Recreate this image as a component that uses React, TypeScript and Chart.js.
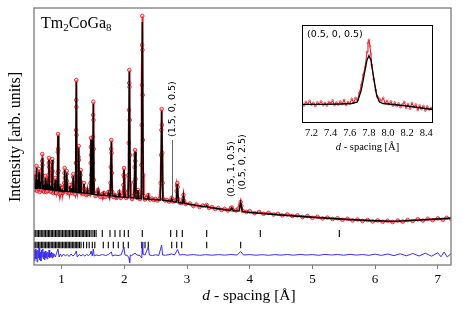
import React, { useEffect, useRef } from 'react';
import { Chart, registerables } from 'chart.js';
Chart.register(...registerables);

// ---------------- DATA ----------------
const xTickValues = [1, 2, 3, 4, 5, 6, 7];
const insetTickValues = [7.2, 7.4, 7.6, 7.8, 8.0, 8.2, 8.4];

// calculated profile [d (Å), intensity]
const calcPattern: number[][] = [
  [0.560, 380], [0.565, 372], [0.572, 500], [0.579, 370],
  [0.592, 368], [0.600, 570], [0.608, 367],
  [0.618, 366], [0.625, 450], [0.631, 366],
  [0.634, 366], [0.640, 530], [0.647, 365],
  [0.658, 364], [0.665, 430], [0.672, 363],
  [0.684, 363], [0.692, 670], [0.700, 362],
  [0.708, 361], [0.715, 400], [0.722, 360],
  [0.732, 359], [0.740, 470], [0.748, 358],
  [0.763, 357], [0.770, 400], [0.777, 356],
  [0.791, 355], [0.799, 650], [0.807, 354],
  [0.818, 353], [0.825, 390], [0.832, 352],
  [0.844, 351], [0.852, 650], [0.860, 350],
  [0.868, 349], [0.875, 370], [0.882, 348],
  [0.892, 348], [0.900, 450], [0.908, 347],
  [0.933, 345], [0.943, 890], [0.953, 344],
  [0.968, 342], [0.975, 370], [0.982, 341],
  [1.003, 340], [1.010, 350], [1.017, 339],
  [1.039, 338], [1.049, 550], [1.059, 337],
  [1.071, 336], [1.081, 520], [1.091, 336],
  [1.120, 334], [1.130, 390], [1.140, 334],
  [1.152, 333], [1.160, 370], [1.168, 332],
  [1.176, 331], [1.187, 490], [1.198, 330],
  [1.222, 328], [1.234, 1430], [1.246, 327],
  [1.262, 326], [1.273, 770], [1.284, 325],
  [1.295, 323], [1.305, 540], [1.315, 322],
  [1.347, 320], [1.357, 410], [1.367, 319],
  [1.400, 316], [1.410, 350], [1.420, 315],
  [1.457, 311], [1.469, 850], [1.481, 309],
  [1.494, 308], [1.506, 1210], [1.518, 306],
  [1.571, 302], [1.581, 340], [1.591, 301],
  [1.666, 297], [1.676, 310], [1.686, 296],
  [1.735, 294], [1.745, 320], [1.755, 293],
  [1.778, 291], [1.793, 830], [1.808, 290],
  [1.842, 287], [1.852, 300], [1.862, 286],
  [1.910, 282], [1.920, 320], [1.930, 281],
  [1.980, 279], [1.995, 550], [2.010, 278],
  [2.064, 274], [2.080, 1530], [2.096, 273],
  [2.156, 270], [2.171, 730], [2.186, 269],
  [2.206, 268], [2.218, 350], [2.230, 267],
  [2.270, 264], [2.287, 2030], [2.304, 262],
  [2.372, 259], [2.383, 290], [2.394, 258],
  [2.577, 251], [2.596, 1140], [2.615, 249],
  [2.742, 237], [2.756, 262], [2.770, 235],
  [2.828, 229], [2.845, 410], [2.862, 226],
  [2.930, 217], [2.944, 290], [2.958, 215],
  [3.300, 180], [3.314, 195], [3.328, 179],
  [3.690, 146], [3.713, 170], [3.736, 144],
  [3.830, 139], [3.856, 222], [3.882, 136],
  [4.000, 125], [4.500, 100], [5.000, 77], [5.500, 57], [6.000, 42],
  [6.300, 36], [6.600, 46], [7.000, 60], [7.210, 68],
];

// observed points [d, intensity]
const obsPattern: number[][] = [
  [0.560, 420], [0.566, 360], [0.572, 520], [0.576, 430], [0.582, 350], [0.590, 400], [0.596, 480],
  [0.600, 590], [0.604, 470], [0.610, 340], [0.618, 390], [0.625, 470], [0.630, 360], [0.636, 420],
  [0.640, 560], [0.645, 420], [0.652, 330], [0.660, 380], [0.665, 450], [0.670, 350], [0.678, 390],
  [0.686, 500], [0.690, 640], [0.692, 710], [0.695, 600], [0.700, 420], [0.706, 340], [0.715, 420],
  [0.722, 330], [0.730, 380], [0.736, 420], [0.740, 490], [0.745, 380], [0.755, 330], [0.762, 390],
  [0.770, 420], [0.777, 340], [0.785, 380], [0.793, 500], [0.797, 620], [0.799, 670], [0.802, 580],
  [0.806, 420], [0.815, 340], [0.825, 410], [0.833, 330], [0.842, 380], [0.847, 520], [0.850, 630],
  [0.852, 660], [0.855, 540], [0.860, 380], [0.868, 320], [0.875, 390], [0.883, 330], [0.893, 360],
  [0.900, 470], [0.906, 350], [0.915, 320], [0.930, 370], [0.936, 520], [0.940, 730], [0.943, 910],
  [0.946, 760], [0.950, 540], [0.956, 360], [0.965, 310], [0.975, 390], [0.985, 320], [0.995, 350],
  [1.010, 370], [1.020, 320], [1.030, 350],
  [1.042, 420], [1.047, 520], [1.049, 570], [1.053, 470], [1.060, 340], [1.074, 410], [1.079, 510],
  [1.081, 540], [1.085, 440], [1.092, 330], [1.105, 350], [1.118, 320], [1.130, 400], [1.140, 320],
  [1.150, 350], [1.160, 380], [1.170, 320], [1.180, 400], [1.185, 480], [1.187, 510], [1.191, 420],
  [1.200, 330], [1.212, 310], [1.224, 420], [1.228, 620], [1.231, 950], [1.233, 1250], [1.234, 1450],
  [1.236, 1180], [1.238, 900], [1.241, 620], [1.245, 400], [1.252, 330], [1.262, 380], [1.266, 520],
  [1.270, 680], [1.273, 790], [1.276, 650], [1.280, 440], [1.288, 330], [1.298, 400], [1.302, 500],
  [1.305, 550], [1.309, 430], [1.318, 320], [1.330, 340], [1.345, 310], [1.352, 370], [1.357, 420],
  [1.362, 360], [1.375, 320], [1.390, 300], [1.405, 330], [1.410, 350], [1.418, 310], [1.435, 330],
  [1.450, 310], [1.460, 420], [1.464, 620], [1.467, 780], [1.469, 870], [1.472, 700], [1.476, 500],
  [1.484, 330], [1.494, 400], [1.498, 620], [1.501, 880], [1.504, 1100], [1.506, 1233], [1.509, 1050],
  [1.512, 760], [1.516, 450], [1.524, 320], [1.540, 290], [1.560, 310], [1.581, 350], [1.595, 300],
  [1.620, 280], [1.645, 310], [1.660, 290], [1.676, 320], [1.700, 280], [1.720, 300], [1.745, 330],
  [1.765, 290], [1.780, 420], [1.785, 580], [1.790, 760], [1.793, 850], [1.797, 720], [1.802, 520],
  [1.810, 330], [1.825, 280], [1.852, 300], [1.875, 270], [1.900, 290], [1.920, 330], [1.945, 270],
  [1.970, 290], [1.985, 400], [1.990, 500], [1.995, 570], [2.000, 480], [2.008, 340], [2.030, 270],
  [2.055, 290], [2.066, 500], [2.071, 820], [2.075, 1150], [2.078, 1420], [2.080, 1550], [2.083, 1380],
  [2.086, 1050], [2.090, 700], [2.095, 420], [2.105, 280], [2.125, 260], [2.145, 290], [2.160, 430],
  [2.165, 580], [2.169, 700], [2.171, 750], [2.175, 640], [2.180, 460], [2.190, 300], [2.205, 270],
  [2.218, 350], [2.232, 270], [2.250, 260], [2.268, 320], [2.274, 600], [2.278, 1000], [2.281, 1400],
  [2.284, 1800], [2.287, 2090], [2.290, 1750], [2.293, 1300], [2.297, 850], [2.301, 500], [2.310, 290],
  [2.330, 255], [2.355, 270], [2.383, 300], [2.410, 255],
  [2.440, 265], [2.470, 250], [2.500, 260], [2.530, 245], [2.560, 260], [2.580, 420], [2.586, 700],
  [2.591, 950], [2.596, 1160], [2.600, 1000], [2.605, 720], [2.611, 420], [2.620, 260], [2.650, 245],
  [2.680, 250], [2.710, 235], [2.740, 245], [2.756, 270], [2.775, 235], [2.800, 240], [2.825, 250],
  [2.835, 340], [2.841, 400], [2.845, 420], [2.850, 380], [2.858, 260], [2.880, 225], [2.910, 220],
  [2.935, 260], [2.944, 300], [2.955, 240], [2.980, 210],
  [3.05, 215], [3.10, 190], [3.15, 205], [3.20, 180], [3.25, 195], [3.314, 200], [3.35, 170],
  [3.40, 180], [3.45, 160], [3.50, 170], [3.55, 150], [3.60, 162], [3.65, 145], [3.70, 168],
  [3.713, 175], [3.73, 150], [3.78, 145], [3.82, 165], [3.845, 200], [3.856, 230], [3.866, 190],
  [3.89, 140], [3.95, 130], [4.00, 138], [4.08, 118], [4.15, 130], [4.22, 112], [4.30, 122],
  [4.38, 105], [4.45, 112], [4.52, 96], [4.60, 106], [4.68, 90], [4.76, 96], [4.84, 80],
  [4.92, 90], [5.00, 72], [5.08, 82], [5.16, 66], [5.24, 74], [5.32, 60], [5.40, 68],
  [5.48, 52], [5.56, 62], [5.64, 46], [5.72, 55], [5.80, 40], [5.88, 50], [5.96, 35],
  [6.04, 46], [6.12, 32], [6.20, 42], [6.28, 30], [6.36, 45], [6.44, 34], [6.52, 50],
  [6.60, 40], [6.68, 58], [6.76, 44], [6.84, 62], [6.92, 48], [7.00, 66], [7.08, 52],
  [7.14, 72], [7.21, 62],
];

// difference curve (obs - calc, offset) [d, value]
const diffPattern: number[][] = [
  [0.560, -250], [0.57, -360], [0.58, -240], [0.59, -340], [0.60, -260], [0.61, -370], [0.62, -250],
  [0.63, -330], [0.64, -230], [0.65, -350], [0.66, -270], [0.67, -360], [0.68, -250], [0.69, -320],
  [0.70, -240], [0.71, -340], [0.72, -270], [0.73, -350], [0.74, -260], [0.75, -330], [0.76, -280],
  [0.77, -340], [0.78, -270], [0.79, -320], [0.80, -250], [0.81, -330], [0.82, -280], [0.83, -320],
  [0.84, -270], [0.85, -330], [0.86, -280], [0.87, -320], [0.88, -290], [0.90, -320], [0.92, -280],
  [0.943, -240], [0.96, -320], [0.98, -290], [1.00, -315], [1.03, -290], [1.06, -310], [1.09, -295],
  [1.12, -315], [1.15, -290], [1.18, -310], [1.21, -295], [1.234, -260], [1.25, -320], [1.28, -295],
  [1.31, -310], [1.34, -295], [1.37, -310], [1.40, -295], [1.43, -305], [1.46, -290], [1.47, -260],
  [1.49, -310], [1.506, -240], [1.52, -310], [1.55, -300], [1.60, -305], [1.65, -295], [1.70, -305],
  [1.75, -295], [1.793, -270], [1.81, -310], [1.85, -300], [1.90, -305], [1.95, -298], [1.995, -220],
  [2.01, -300], [2.05, -305], [2.075, -330], [2.085, -380], [2.095, -300], [2.12, -305], [2.171, -280],
  [2.20, -300], [2.25, -305], [2.280, -330], [2.287, -170], [2.295, -290], [2.33, -300], [2.383, -220],
  [2.40, -300], [2.45, -305], [2.50, -298], [2.55, -305], [2.596, -200], [2.61, -300], [2.66, -302],
  [2.70, -298], [2.756, -290], [2.80, -300], [2.85, -245], [2.88, -300], [2.95, -295], [3.00, -302],
  [3.1, -296], [3.2, -303], [3.3, -297], [3.4, -302], [3.5, -296], [3.6, -301], [3.7, -295],
  [3.8, -300], [3.856, -265], [3.9, -300], [4.0, -296], [4.1, -302], [4.2, -297], [4.3, -303],
  [4.4, -296], [4.5, -301], [4.6, -295], [4.7, -302], [4.8, -294], [4.9, -300], [5.0, -296],
  [5.1, -303], [5.2, -294], [5.3, -300], [5.4, -295], [5.5, -302], [5.6, -293], [5.7, -301],
  [5.8, -295], [5.9, -303], [6.0, -292], [6.1, -304], [6.2, -290], [6.3, -306], [6.4, -288],
  [6.5, -308], [6.6, -285], [6.7, -310], [6.8, -282], [6.9, -312], [7.0, -278], [7.05, -318],
  [7.1, -270], [7.15, -320], [7.21, -285],
];

// Bragg reflection positions (d, Å)
const braggNuclear = [
  0.565, 0.588, 0.61, 0.633, 0.655, 0.676, 0.70, 0.722, 0.745, 0.768, 0.79, 0.812, 0.835, 0.857,
  0.88, 0.903, 0.925, 0.947, 0.97, 0.992, 1.015, 1.038, 1.06, 1.083, 1.105, 1.128, 1.15, 1.173,
  1.195, 1.218, 1.24, 1.262, 1.285, 1.308, 1.33, 1.352, 1.375, 1.398, 1.42, 1.443,
  1.47, 1.50, 1.525, 1.55, 1.649, 1.772, 1.852, 1.931, 2.000, 2.064, 2.287, 2.740, 2.836, 2.925,
  3.314, 4.169, 5.429,
];
const braggMagnetic = [
  0.565, 0.588, 0.61, 0.633, 0.655, 0.678, 0.70, 0.722, 0.745, 0.768, 0.79, 0.812, 0.835, 0.858,
  0.88, 0.902, 0.925, 0.948, 0.97, 0.992, 1.015, 1.038, 1.06, 1.082, 1.105, 1.128, 1.15, 1.172,
  1.195, 1.218, 1.24, 1.262, 1.285, 1.31, 1.35, 1.40, 1.44, 1.49, 1.53,
  1.665, 1.745, 1.825, 1.904, 1.984, 2.064, 2.278, 2.330, 2.383, 2.756, 2.836, 2.915, 3.314, 3.856,
];
const braggNuclearLevel = -85;
const braggMagneticLevel = -200;

// peak annotations
const annLabels = ['(1.5, 0, 0.5)', '(0.5, 1, 0.5)', '(0.5, 0, 2.5)'];
const annD = [2.766, 3.705, 3.88];
const annTextBase = [880, 280, 350];
const annLineTo = [260, null, null];

// inset: (0.5, 0, 0.5) magnetic reflection
const insetCalc: number[][] = [
  [7.10, 187], [7.30, 187], [7.50, 190], [7.62, 195], [7.68, 210], [7.72, 330], [7.75, 480],
  [7.78, 630], [7.80, 673], [7.82, 630], [7.85, 450], [7.88, 280], [7.91, 210], [7.95, 195],
  [8.05, 185], [8.20, 170], [8.35, 150], [8.47, 135],
];
const insetObs: number[][] = [
  [7.10, 200], [7.12, 175], [7.14, 210], [7.16, 190], [7.18, 220], [7.20, 185], [7.22, 200],
  [7.24, 170], [7.26, 205], [7.28, 190], [7.30, 215], [7.32, 180], [7.34, 200], [7.36, 175],
  [7.38, 210], [7.40, 195], [7.42, 225], [7.44, 180], [7.46, 205], [7.48, 185], [7.50, 215],
  [7.52, 190], [7.54, 230], [7.56, 180], [7.58, 210], [7.60, 195], [7.62, 240], [7.64, 205],
  [7.66, 250], [7.68, 230], [7.70, 300], [7.72, 380], [7.74, 480], [7.76, 560], [7.78, 710],
  [7.79, 800], [7.80, 830], [7.81, 770], [7.82, 690], [7.83, 580], [7.85, 440], [7.87, 330],
  [7.89, 260], [7.91, 240], [7.93, 220], [7.95, 250], [7.97, 200], [7.99, 220], [8.01, 190],
  [8.03, 215], [8.05, 175], [8.07, 205], [8.09, 170], [8.11, 195], [8.13, 160], [8.15, 185],
  [8.17, 210], [8.19, 150], [8.21, 190], [8.23, 145], [8.25, 200], [8.27, 160], [8.29, 185],
  [8.31, 130], [8.33, 175], [8.35, 140], [8.37, 170], [8.39, 125], [8.41, 165], [8.43, 135],
  [8.45, 150], [8.47, 140],
];

// ---------------- HELPERS ----------------
const toXY = (arr: number[][]) => arr.map(([x, y]) => ({ x, y }));
const SERIF = '"Liberation Serif", "DejaVu Serif", serif';
const SANS = '"DejaVu Sans", sans-serif';

const mainTextPlugin = {
  id: 'mainText',
  afterDraw(chart: any) {
    const { ctx, chartArea: a, scales } = chart;
    const xs = scales.x, ys = scales.y;
    ctx.save();
    // frame
    ctx.strokeStyle = '#7a7a7a';
    ctx.lineWidth = 1.3;
    ctx.strokeRect(a.left, a.top, a.right - a.left, a.bottom - a.top);

    // compound title
    ctx.fillStyle = '#000';
    ctx.textBaseline = 'alphabetic';
    ctx.textAlign = 'left';
    let x = a.left + 7;
    const yb = a.top + 20;
    const parts: [string, boolean][] = [['Tm', false], ['2', true], ['CoGa', false], ['8', true]];
    for (const [t, sub] of parts) {
      ctx.font = sub ? `11px ${SERIF}` : `16px ${SERIF}`;
      ctx.fillText(t, x, sub ? yb + 3 : yb);
      x += ctx.measureText(t).width;
    }

    // y title
    ctx.save();
    ctx.translate(16, 137);
    ctx.rotate(-Math.PI / 2);
    ctx.textAlign = 'center';
    ctx.textBaseline = 'middle';
    ctx.font = `16px ${SERIF}`;
    ctx.fillText('Intensity [arb. units]', 0, 0);
    ctx.restore();

    // x title
    ctx.font = `italic 15.5px ${SERIF}`;
    const wD = ctx.measureText('d').width;
    ctx.font = `15.5px ${SERIF}`;
    const rest = ' - spacing [Å]';
    const wR = ctx.measureText(rest).width;
    const cx = 249;
    const ty = 296;
    ctx.textBaseline = 'middle';
    ctx.font = `italic 15.5px ${SERIF}`;
    ctx.fillText('d', cx - (wD + wR) / 2, ty);
    ctx.font = `15.5px ${SERIF}`;
    ctx.fillText(rest, cx - (wD + wR) / 2 + wD, ty);

    // annotations
    ctx.font = `9.5px ${SANS}`;
    for (let i = 0; i < annLabels.length; i++) {
      const px = xs.getPixelForValue(annD[i]);
      const py = ys.getPixelForValue(annTextBase[i]);
      ctx.save();
      ctx.translate(px, py);
      ctx.rotate(-Math.PI / 2);
      ctx.textAlign = 'left';
      ctx.textBaseline = 'middle';
      ctx.fillStyle = '#000';
      ctx.fillText(annLabels[i], 0, 0);
      ctx.restore();
      const lt = annLineTo[i];
      if (lt !== null) {
        ctx.strokeStyle = '#666';
        ctx.lineWidth = 1;
        ctx.beginPath();
        ctx.moveTo(Math.round(px) + 0.5, py + 3);
        ctx.lineTo(Math.round(px) + 0.5, ys.getPixelForValue(lt));
        ctx.stroke();
      }
    }
    ctx.restore();
  },
};

const insetPlugin = {
  id: 'insetDeco',
  beforeDatasetsDraw(chart: any) {
    const { ctx, chartArea: a } = chart;
    ctx.save();
    ctx.fillStyle = '#fff';
    ctx.fillRect(a.left, a.top, a.right - a.left, a.bottom - a.top);
    ctx.restore();
  },
  afterDraw(chart: any) {
    const { ctx, chartArea: a } = chart;
    ctx.save();
    ctx.strokeStyle = '#000';
    ctx.lineWidth = 1;
    ctx.strokeRect(a.left + 0.5, a.top + 0.5, a.right - a.left - 1, a.bottom - a.top - 1);
    ctx.fillStyle = '#000';
    ctx.font = `9.5px ${SANS}`;
    ctx.textAlign = 'left';
    ctx.textBaseline = 'middle';
    ctx.fillText('(0.5, 0, 0.5)', a.left + 5, a.top + 10);
    // x title
    ctx.font = `italic 10.5px ${SERIF}`;
    const wD = ctx.measureText('d').width;
    ctx.font = `10.5px ${SERIF}`;
    const rest = ' - spacing [Å]';
    const wR = ctx.measureText(rest).width;
    const cx = (a.left + a.right) / 2;
    const ty = a.bottom + 24;
    ctx.font = `italic 10.5px ${SERIF}`;
    ctx.fillText('d', cx - (wD + wR) / 2, ty);
    ctx.font = `10.5px ${SERIF}`;
    ctx.fillText(rest, cx - (wD + wR) / 2 + wD, ty);
    ctx.restore();
  },
};

export default function App() {
  const mainRef = useRef<HTMLCanvasElement>(null);
  const insetRef = useRef<HTMLCanvasElement>(null);

  useEffect(() => {
    const main = new Chart(mainRef.current as HTMLCanvasElement, {
      type: 'scatter',
      data: {
        datasets: [
          {
            label: 'calc',
            data: toXY(calcPattern),
            showLine: true,
            borderColor: '#000',
            borderWidth: 1.4,
            pointRadius: 0,
            order: 1,
          },
          {
            label: 'obs',
            data: toXY(obsPattern),
            showLine: true,
            borderColor: 'rgba(232,16,28,0.95)',
            borderWidth: 2,
            pointRadius: 1.8,
            pointBorderWidth: 0.8,
            pointBorderColor: '#e3121e',
            pointBackgroundColor: 'rgba(255,190,190,0.6)',
            order: 2,
          },
          {
            label: 'diff',
            data: toXY(diffPattern),
            showLine: true,
            borderColor: '#3b2ef0',
            borderWidth: 1,
            pointRadius: 0,
            order: 3,
          },
          {
            label: 'nuclear',
            data: braggNuclear.map((d) => ({ x: d, y: braggNuclearLevel })),
            showLine: false,
            pointStyle: 'line',
            rotation: 90,
            pointRadius: 3.5,
            pointBorderColor: '#000',
            pointBorderWidth: 1.1,
            order: 4,
          },
          {
            label: 'magnetic',
            data: braggMagnetic.map((d) => ({ x: d, y: braggMagneticLevel })),
            showLine: false,
            pointStyle: 'line',
            rotation: 90,
            pointRadius: 3.2,
            pointBorderColor: '#000',
            pointBorderWidth: 1.1,
            order: 5,
          },
        ] as any,
      },
      options: {
        animation: false,
        responsive: false,
        events: [],
        layout: { padding: { left: 34, right: 12, top: 8, bottom: 0 } },
        plugins: { legend: { display: false }, tooltip: { enabled: false } },
        scales: {
          x: {
            type: 'linear',
            min: 0.56,
            max: 7.21,
            afterBuildTicks: (s: any) => {
              s.ticks = xTickValues.map((v) => ({ value: v }));
            },
            afterFit: (s: any) => {
              s.height = 46;
            },
            ticks: {
              color: '#000',
              padding: 3,
              font: { family: SERIF, size: 13 },
              callback: (v: any) => String(v),
            },
            grid: { display: true, drawOnChartArea: false, drawTicks: true, tickLength: 4, color: '#7a7a7a' },
            border: { display: false },
          },
          y: { display: false, min: -400, max: 2170 },
        },
      } as any,
      plugins: [mainTextPlugin],
    });

    const inset = new Chart(insetRef.current as HTMLCanvasElement, {
      type: 'scatter',
      data: {
        datasets: [
          {
            label: 'calc',
            data: toXY(insetCalc),
            showLine: true,
            borderColor: '#000',
            borderWidth: 1.3,
            pointRadius: 0,
            order: 1,
          },
          {
            label: 'obs',
            data: toXY(insetObs),
            showLine: true,
            borderColor: '#e3121e',
            borderWidth: 1,
            pointRadius: 1,
            pointBorderWidth: 0.6,
            pointBorderColor: '#e3121e',
            pointBackgroundColor: 'rgba(255,190,190,0.6)',
            order: 2,
          },
        ] as any,
      },
      options: {
        animation: false,
        responsive: false,
        events: [],
        layout: { padding: { left: 12, right: 17, top: 13, bottom: 0 } },
        plugins: { legend: { display: false }, tooltip: { enabled: false } },
        scales: {
          x: {
            type: 'linear',
            min: 7.1,
            max: 8.47,
            afterBuildTicks: (s: any) => {
              s.ticks = insetTickValues.map((v) => ({ value: v }));
            },
            afterFit: (s: any) => {
              s.height = 39;
            },
            ticks: {
              color: '#000',
              padding: 4,
              font: { family: SERIF, size: 10.5 },
              callback: (v: any) => Number(v).toFixed(1),
            },
            grid: { display: false, drawTicks: false },
            border: { display: false },
          },
          y: { display: false, min: 0, max: 980 },
        },
      } as any,
      plugins: [insetPlugin],
    });

    return () => {
      main.destroy();
      inset.destroy();
    };
  }, []);

  return (
    <div style={{ position: 'fixed', left: 0, top: 0, width: 463, height: 311, background: '#fff' }}>
      <canvas ref={mainRef} width={463} height={311} style={{ position: 'absolute', left: 0, top: 0 }} />
      <canvas ref={insetRef} width={160} height={150} style={{ position: 'absolute', left: 290, top: 12 }} />
    </div>
  );
}
